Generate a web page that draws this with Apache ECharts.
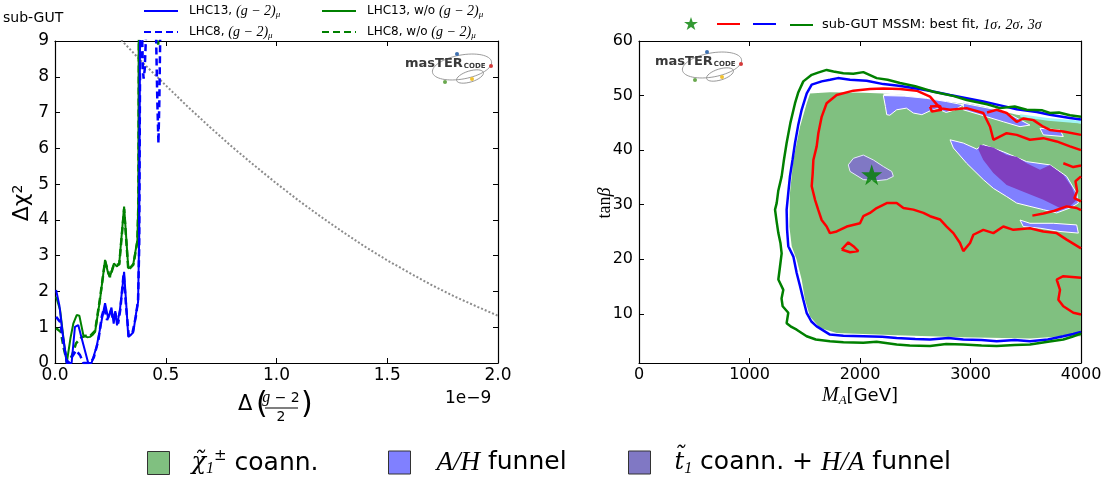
<!DOCTYPE html>
<html>
<head>
<meta charset="utf-8">
<script src="https://cdn.jsdelivr.net/npm/echarts@6.0.0/dist/echarts.min.js"></script>
<style>
html,body{margin:0;padding:0;background:#ffffff;}
#chart{width:1108px;height:483px;}
</style>
</head>
<body>
<div id="chart"></div>
<script>
// ---------- Left panel: Δχ² profiles vs Δ((g-2)/2), x in units of 1e-9 ----------
const curveNames = ['LHC13, (g−2)μ', 'LHC8, (g−2)μ', 'LHC13, w/o (g−2)μ', 'LHC8, w/o (g−2)μ'];

const lhc13WithGm2 = [[0.005,2.04],[0.02,1.6],[0.035,0.8],[0.053,0],[0.075,0],[0.09,1.01],[0.105,1.06],[0.118,0.75],[0.15,0],[0.165,0],[0.188,0.46],[0.211,1.2],[0.226,1.67],[0.24,1.25],[0.255,1.55],[0.265,1.1],[0.272,1.45],[0.28,1.05],[0.293,1.48],[0.312,2.55],[0.322,1.6],[0.331,0.73],[0.345,0.8],[0.354,0.87],[0.366,1.39],[0.375,1.7],[0.38,3.5],[0.384,9.3],[0.39,12],[0.5,14]];
const lhc8WithGm2 = [[0.005,1.29],[0.023,1.15],[0.04,0.5],[0.055,0],[0.08,0.2],[0.095,0.35],[0.113,0.22],[0.128,0],[0.16,0],[0.175,0.15],[0.196,0.64],[0.211,1.29],[0.222,1.55],[0.235,1.2],[0.25,1.45],[0.262,1.25],[0.272,1.4],[0.285,1.1],[0.295,1.5],[0.31,2.5],[0.322,1.5],[0.333,0.75],[0.35,0.85],[0.365,1.3],[0.375,1.75],[0.38,3.2],[0.385,9.5],[0.39,10],[0.397,8.2],[0.40,7.95],[0.405,8.2],[0.413,9.5],[0.455,9.6],[0.462,7.3],[0.467,6.14],[0.471,7.3],[0.476,9.6],[0.5,12]];
const lhc13NoGm2 = [[0.005,1.85],[0.023,1.48],[0.04,0.6],[0.053,0],[0.07,0.7],[0.083,1.11],[0.098,1.34],[0.11,1.32],[0.128,0.78],[0.145,0.72],[0.158,0.73],[0.172,0.8],[0.181,0.87],[0.203,1.76],[0.226,2.88],[0.24,2.5],[0.248,2.41],[0.266,2.78],[0.28,2.7],[0.29,2.78],[0.312,4.37],[0.331,2.64],[0.345,2.7],[0.354,2.78],[0.372,3.44],[0.376,4.5],[0.378,9.3],[0.385,12],[0.5,14]];
const lhc8NoGm2 = [[0.005,0.97],[0.026,0.87],[0.04,0.4],[0.055,0],[0.075,0.18],[0.095,0.55],[0.12,0.72],[0.14,0.76],[0.158,0.75],[0.181,0.9],[0.203,1.8],[0.226,2.85],[0.248,2.4],[0.266,2.75],[0.29,2.75],[0.312,4.3],[0.331,2.6],[0.354,2.75],[0.372,3.4],[0.377,4.6],[0.379,9.3],[0.385,11],[0.44,9.6],[0.466,8.9],[0.472,9.6],[0.5,11]];
const gm2Measurement = [[0.2,9.68],[0.3,9.02],[0.4,8.37],[0.5,7.76],[0.6,7.16],[0.7,6.59],[0.8,6.04],[0.9,5.52],[1.0,5.02],[1.1,4.54],[1.2,4.09],[1.3,3.66],[1.4,3.25],[1.5,2.87],[1.6,2.52],[1.7,2.18],[1.8,1.87],[1.9,1.59],[2.0,1.32]];

// ---------- Right panel: (M_A, tanβ) plane ----------
const regionNames = ['chi coann', 'A/H funnel', 'stop coann + H/A funnel'];
const bestFit = [[2106, 35.5]];

const sigma3Line = [[4000,46.1],[3900,46.4],[3800,46.9],[3719,46.8],[3650,47.3],[3508,47.4],[3400,48.0],[3267,47.7],[3150,48.4],[2965,49.2],[2850,49.9],[2664,50.7],[2500,51.7],[2362,52.3],[2250,52.9],[2151,53.2],[2030,54.3],[1940,54.0],[1849,54.1],[1760,54.4],[1698,54.7],[1620,54.2],[1563,53.8],[1487,52.6],[1440,50.5],[1412,48.6],[1370,45],[1336,41.3],[1310,38],[1291,35.2],[1260,32.5],[1246,30.3],[1231,29.1],[1245,27],[1261,24.8],[1280,23],[1291,21.1],[1275,18.5],[1261,16.3],[1306,14.4],[1290,12.8],[1300,11.4],[1351,10.2],[1336,8.3],[1380,7.6],[1427,7.1],[1517,5.9],[1600,5.3],[1728,5.0],[1850,4.8],[2030,4.7],[2150,4.9],[2332,4.4],[2450,4.2],[2634,4.1],[2780,4.5],[2935,4.4],[3100,4.2],[3237,4.1],[3400,4.3],[3538,4.4],[3700,4.9],[3840,5.3],[3920,5.8],[4000,6.4]];
const sigma2Line = [[4000,45.6],[3900,45.9],[3719,46.5],[3600,47.0],[3418,47.5],[3250,48.3],[3116,48.9],[2965,49.5],[2815,50.1],[2650,50.8],[2513,51.3],[2350,51.8],[2211,52.1],[2060,52.7],[1910,52.9],[1800,53.2],[1729,52.9],[1653,52.6],[1563,52.0],[1518,50.4],[1472,47.4],[1440,44.5],[1412,41.3],[1390,38.3],[1366,35.2],[1350,32],[1336,29.1],[1340,25.5],[1351,22.4],[1397,20.5],[1427,17.5],[1457,15.1],[1487,12.6],[1517,10.2],[1560,8.6],[1608,7.7],[1728,6.2],[1850,6.0],[2030,5.9],[2200,5.8],[2332,5.6],[2500,5.4],[2634,5.3],[2800,5.6],[2935,5.3],[3100,5.2],[3237,5.0],[3400,5.2],[3538,5.0],[3700,5.3],[3840,5.9],[3930,6.3],[4000,6.7]];
const sigma1Main = [[4000,40.0],[3900,40.7],[3780,41.6],[3659,42.2],[3538,41.9],[3418,42.8],[3327,43.1],[3207,41.9],[3177,44.3],[3116,46.8],[2965,47.7],[2815,47.4],[2724,47.7],[2634,49.8],[2513,50.9],[2362,51.2],[2211,51.3],[2090,51.2],[1940,50.9],[1789,50.1],[1698,48.6],[1653,46.1],[1623,43.1],[1608,40.7],[1578,38.2],[1572,35.8],[1563,33.4],[1593,30.9],[1623,29.0],[1653,27.2],[1698,26.0],[1728,24.8],[1789,25.1],[1880,26.0],[2000,26.6],[2030,27.9],[2090,28.5],[2151,29.4],[2242,30.3],[2332,30.3],[2393,29.4],[2483,29.1],[2574,28.5],[2634,27.9],[2724,27.3],[2784,26.0],[2845,24.8],[2905,23.0],[2935,21.5],[2996,23.0],[3026,24.5],[3116,25.4],[3207,24.8],[3297,26.0],[3388,25.4],[3538,25.7],[3659,25.1],[3780,24.8],[3870,23.6],[4000,22.0]];
const sigma1Upper = [[3150,46.9],[3237,47.4],[3327,46.8],[3418,45.2],[3478,45.8],[3569,45.5],[3659,44.3],[3719,43.7],[3840,43.4],[4000,42.8]];
const sigma1EdgeA = [[3840,37.6],[3930,36.9],[4000,37.2]];
const sigma1EdgeB = [[4000,35.2],[3950,34.3],[3965,32.5],[3940,31.2],[4000,30.6]];
const sigma1EdgeC = [[3560,28.0],[3660,28.4],[3760,28.9],[3870,29.7],[3960,29.4],[4000,29.0]];
const sigma1Corner = [[4000,16.6],[3840,16.9],[3780,16.3],[3810,14.4],[3795,12.6],[3840,11.4],[3931,10.2],[4000,9.9]];
const sigma1IslandLow = [[1834,21.8],[1894,23.1],[1940,22.4],[1985,21.5],[1910,21.3],[1834,21.8]];
const sigma1IslandTop = [[2634,48.0],[2724,48.1],[2739,47.4],[2649,47.1],[2634,48.0]];

const coannRegion = [[[1548,50.4],[1729,50.6],[2030,50.5],[2211,50.4],[2483,50.0],[2784,49.3],[3116,48.0],[3418,46.5],[3719,45.7],[4000,44.9],[4000,5.9],[3840,5.9],[3538,5.5],[2935,5.7],[2332,6.1],[2030,6.3],[1789,6.5],[1638,7.4],[1548,9.5],[1502,12.6],[1472,16.3],[1427,19.9],[1382,22.4],[1361,26.0],[1366,32.1],[1397,38.2],[1457,44.3],[1518,48.6]]];
const gapRegion = [[[2211,50.4],[2500,50.1],[2784,49.4],[2935,48.9],[2935,48.5],[2784,48.9],[2634,49.0],[2450,49.3],[2300,49.5],[2226,48.9]]];
const edgeRegion = [[[3450,46.6],[3700,45.9],[4000,45.4],[4000,44.9],[3700,45.4],[3450,46.1]]];
const funnelRegion = [
  [[2211,50.0],[2400,49.9],[2600,49.5],[2784,48.9],[2935,48.3],[2860,47.4],[2780,46.9],[2700,47.6],[2634,47.2],[2560,46.5],[2483,46.8],[2420,47.7],[2332,47.4],[2270,46.4],[2242,46.5],[2230,48.0]],
  [[2935,48.6],[3237,47.4],[3388,46.2],[3538,44.6],[3448,44.3],[3297,45.2],[3086,46.5],[2935,47.4]],
  [[3629,44.0],[3810,43.7],[3840,42.5],[3659,42.8]],
  [[2815,41.9],[2935,41.3],[3056,40.2],[3116,41.0],[3297,39.7],[3508,37.9],[3719,37.3],[3870,35.2],[3961,32.1],[3976,30.3],[3900,29.4],[3780,28.5],[3659,29.1],[3538,29.7],[3418,30.3],[3327,31.5],[3207,33.0],[3116,34.6],[2965,37.6],[2845,40.4]],
  [[3448,27.2],[3538,26.6],[3749,26.6],[3961,26.3],[3976,24.8],[3810,25.1],[3629,25.7],[3478,26.0]]
];
// stop coannihilation + H/A funnel patch around the best-fit point
const stopRegion = [[[1894,37.3],[1940,38.5],[2030,39.1],[2121,38.2],[2211,37.0],[2287,36.1],[2302,35.2],[2242,34.6],[2151,34.4],[2030,34.6],[1910,36.1]]];
// darker band where the stop and funnel regions overlap
const overlapRegion = [[[3086,41.0],[3207,40.5],[3327,39.1],[3418,38.8],[3508,37.6],[3629,36.4],[3719,37.3],[3840,35.5],[3915,33.3],[3961,30.9],[3900,29.7],[3810,29.4],[3659,30.9],[3478,32.4],[3327,33.6],[3207,35.8],[3116,38.2],[3071,40.1]]];

// helpers ---------------------------------------------------------------
function joinPieces(pieces) {
  const out = [];
  pieces.forEach((p, i) => { if (i) out.push(null); p.forEach(pt => out.push(pt)); });
  return out;
}
function fillSeries(name, regions, color, z, stroke) {
  return {
    type: 'custom', name, xAxisIndex: 2, yAxisIndex: 2, z, clip: true, silent: true,
    itemStyle: { color },
    data: regions.map((r, i) => [r[0][0], r[0][1], i]),
    encode: { x: 0, y: 1 },
    renderItem: (params, api) => {
      const poly = regions[api.value(2)];
      return { type: 'polygon', shape: { points: poly.map(p => api.coord(p)) },
        style: { fill: color, stroke: stroke || 'none', lineWidth: stroke ? 1 : 0 } };
    }
  };
}
const STAR = 'path://M50,0 L61.8,35.1 L98.9,35.1 L69,56.9 L80.2,91.5 L50,70 L19.8,91.5 L31,56.9 L1.1,35.1 L38.2,35.1 Z';

const axisCommon = {
  type: 'value',
  axisLine: { onZero: false, lineStyle: { color: '#000', width: 1.2 } },
  axisTick: { inside: true, length: 5, lineStyle: { color: '#000', width: 1 } },
  splitLine: { show: false }
};
const tickFont = { color: '#000', fontFamily: 'DejaVu Sans', fontSize: 17 };
function ax(extra) { return Object.assign({}, axisCommon, extra); }

const mathRich = {
  m: { fontFamily: 'Liberation Serif', fontStyle: 'italic', fontSize: 14, lineHeight: 16 },
  s: { fontFamily: 'Liberation Serif', fontStyle: 'italic', fontSize: 9, verticalAlign: 'bottom', lineHeight: 16, padding: [6, 0, 0, 0] }
};
const lhcLabel = name => name.replace('(g−2)μ', '{m|(g − 2)}{s|μ}');

// line legends: only the stroke is shown, the symbol is hidden
const lineLegend = (name, left, top) => ({
  data: [name], left, top, padding: 0, itemWidth: 34, itemHeight: 12, itemGap: 0,
  selectedMode: false, formatter: lhcLabel, itemStyle: { opacity: 0 },
  textStyle: { fontFamily: 'DejaVu Sans', fontSize: 12, color: '#000', padding: [0, 0, 0, 6], rich: mathRich }
});

const bigRich = {
  m: { fontFamily: 'Liberation Serif', fontStyle: 'italic', fontSize: 27 },
  c: { fontFamily: 'DejaVu Serif', fontStyle: 'italic', fontSize: 24 },
  sub: { fontFamily: 'Liberation Serif', fontStyle: 'italic', fontSize: 16, verticalAlign: 'bottom', lineHeight: 28, padding: [9, 0, 0, 0] },
  sup: { fontFamily: 'DejaVu Sans', fontSize: 15, verticalAlign: 'top', lineHeight: 28, padding: [0, 0, 9, 0] }
};
const regionLabels = {
  'chi coann': '{c|χ̃}{sub|1}{sup|±} coann.',
  'A/H funnel': '{m|A/H} funnel',
  'stop coann + H/A funnel': '{c|t̃}{sub|1} coann. + {m|H/A} funnel'
};
const boxLegend = (name, left, gapLeft) => ({
  data: [name], left, top: 449, padding: 0, itemWidth: 22, itemHeight: 23, icon: 'rect',
  selectedMode: false, formatter: n => regionLabels[n],
  itemStyle: { borderColor: '#333', borderWidth: 1 },
  textStyle: { fontFamily: 'DejaVu Sans', fontSize: 25, color: '#000', padding: [0, 0, 0, gapLeft], rich: bigRich }
});

const sigmaRich = { m: { fontFamily: 'Liberation Serif', fontStyle: 'italic', fontSize: 14 } };
const fitLegend = (name, left, w, label, isStar) => ({
  data: [name], left, top: isStar ? 17 : 18, padding: 0, itemWidth: w, itemHeight: isStar ? 13 : 12,
  selectedMode: false, formatter: () => label,
  itemStyle: isStar ? {} : { opacity: 0 },
  textStyle: { fontFamily: 'DejaVu Sans', fontSize: 13, color: '#000', padding: [0, 0, 0, 4], rich: sigmaRich }
});

function logo(ox, oy) {
  return [
    { type: 'ellipse', x: ox + 57, y: oy + 3, rotation: 0.18, shape: { cx: 0, cy: 0, rx: 30, ry: 12 }, style: { fill: 'none', stroke: '#8a8a8a', lineWidth: 0.8 } },
    { type: 'ellipse', x: ox + 65, y: oy + 12.5, rotation: 0.3, shape: { cx: 0, cy: 0, rx: 14, ry: 5.5 }, style: { fill: 'none', stroke: '#8a8a8a', lineWidth: 0.8 } },
    { type: 'text', x: ox, y: oy, style: { text: '{a|masTER}{b|CODE}', verticalAlign: 'middle', rich: {
      a: { fontFamily: 'DejaVu Sans', fontWeight: 'bold', fontSize: 13, fill: '#3a3a3a' },
      b: { fontFamily: 'DejaVu Sans', fontWeight: 'bold', fontSize: 7, fill: '#3a3a3a', padding: [4, 0, 0, 1] } } } },
    { type: 'circle', shape: { cx: ox + 52, cy: oy - 10, r: 2 }, style: { fill: '#3d6fb0' } },
    { type: 'circle', shape: { cx: ox + 86, cy: oy + 2, r: 2 }, style: { fill: '#d43a3a' } },
    { type: 'circle', shape: { cx: ox + 40, cy: oy + 18, r: 2 }, style: { fill: '#6aa84f' } },
    { type: 'circle', shape: { cx: ox + 67, cy: oy + 15, r: 2 }, style: { fill: '#f1c232' } }
  ];
}

const option = {
  animation: false,
  backgroundColor: '#ffffff',
  grid: [
    { left: 55, top: 41, width: 443, height: 322 },
    { left: 639, top: 41, width: 442, height: 322 }
  ],
  xAxis: [
    ax({ gridIndex: 0, min: 0, max: 2, interval: 0.5, position: 'bottom', axisLabel: Object.assign({ margin: 4, formatter: v => v.toFixed(1) }, tickFont) }),
    ax({ gridIndex: 0, min: 0, max: 2, interval: 0.5, position: 'top', axisLabel: { show: false } }),
    ax({ gridIndex: 1, min: 0, max: 4000, interval: 1000, position: 'bottom', axisLabel: Object.assign({ margin: 4, formatter: v => String(v) }, tickFont, { fontSize: 16 }) }),
    ax({ gridIndex: 1, min: 0, max: 4000, interval: 1000, position: 'top', axisLabel: { show: false } })
  ],
  yAxis: [
    ax({ gridIndex: 0, min: 0, max: 9, interval: 1, position: 'left', axisLabel: Object.assign({ margin: 6 }, tickFont) }),
    ax({ gridIndex: 0, min: 0, max: 9, interval: 1, position: 'right', axisLabel: { show: false } }),
    ax({ gridIndex: 1, min: 1, max: 60, splitNumber: 6, position: 'left', axisLabel: Object.assign({ margin: 6, showMinLabel: false, formatter: v => (v % 10 === 0 ? String(v) : '') }, tickFont, { fontSize: 16 }) }),
    ax({ gridIndex: 1, min: 1, max: 60, splitNumber: 6, position: 'right', axisLabel: { show: false } })
  ],
  legend: [
    lineLegend(curveNames[0], 143, 4),
    lineLegend(curveNames[2], 321, 4),
    lineLegend(curveNames[1], 143, 25),
    lineLegend(curveNames[3], 321, 25),
    fitLegend('best fit', 684, 14, '', true),
    fitLegend('1σ', 716, 23, ''),
    fitLegend('2σ', 752, 23, ''),
    fitLegend('3σ', 789, 23, 'sub-GUT MSSM: best fit, {m|1σ}, {m|2σ}, {m|3σ}'),
    boxLegend(regionNames[0], 147, 17),
    boxLegend(regionNames[1], 388, 21),
    boxLegend(regionNames[2], 628, 19)
  ],
  series: [
    { type: 'line', name: 'Δaμ measurement', xAxisIndex: 0, yAxisIndex: 0, data: gm2Measurement, symbol: 'none', clip: true, silent: true,
      lineStyle: { color: '#8c8c8c', width: 2, type: [2, 2] } },
    { type: 'line', name: curveNames[2], xAxisIndex: 0, yAxisIndex: 0, data: lhc13NoGm2, symbol: 'none', clip: true, silent: true,
      itemStyle: { color: '#008000' }, lineStyle: { color: '#008000', width: 2 } },
    { type: 'line', name: curveNames[3], xAxisIndex: 0, yAxisIndex: 0, data: lhc8NoGm2, symbol: 'none', clip: true, silent: true,
      itemStyle: { color: '#008000' }, lineStyle: { color: '#008000', width: 2.5, type: [7, 4] } },
    { type: 'line', name: curveNames[0], xAxisIndex: 0, yAxisIndex: 0, data: lhc13WithGm2, symbol: 'none', clip: true, silent: true,
      itemStyle: { color: '#0000ff' }, lineStyle: { color: '#0000ff', width: 2 } },
    { type: 'line', name: curveNames[1], xAxisIndex: 0, yAxisIndex: 0, data: lhc8WithGm2, symbol: 'none', clip: true, silent: true,
      itemStyle: { color: '#0000ff' }, lineStyle: { color: '#0000ff', width: 2.5, type: [7, 4] } },

    fillSeries(regionNames[0], coannRegion, '#80c080', 1),
    fillSeries('gap', gapRegion, '#ffffff', 2),
    fillSeries('edge', edgeRegion, '#9ff5f5', 2),
    fillSeries(regionNames[1], funnelRegion, '#8080ff', 3, '#ffffff'),
    fillSeries(regionNames[2], stopRegion, '#8078c4', 3, '#e8e8ff'),
    fillSeries('overlap', overlapRegion, '#7f3fbf', 4),

    { type: 'line', name: '1σ', xAxisIndex: 2, yAxisIndex: 2, z: 5, symbol: 'none', clip: true, silent: true, connectNulls: false,
      data: joinPieces([sigma1Main, sigma1Upper, sigma1EdgeA, sigma1EdgeB, sigma1EdgeC, sigma1Corner, sigma1IslandLow, sigma1IslandTop]),
      itemStyle: { color: '#ff0000' }, lineStyle: { color: '#ff0000', width: 2.5 } },
    { type: 'line', name: '2σ', xAxisIndex: 2, yAxisIndex: 2, z: 5, symbol: 'none', clip: true, silent: true, data: sigma2Line,
      itemStyle: { color: '#0000ff' }, lineStyle: { color: '#0000ff', width: 2.5 } },
    { type: 'line', name: '3σ', xAxisIndex: 2, yAxisIndex: 2, z: 5, symbol: 'none', clip: true, silent: true, data: sigma3Line,
      itemStyle: { color: '#008000' }, lineStyle: { color: '#008000', width: 2.5 } },
    { type: 'scatter', name: 'best fit', xAxisIndex: 2, yAxisIndex: 2, z: 6, symbol: STAR, symbolSize: 21, silent: true, data: bestFit,
      itemStyle: { color: '#008000' } }
  ],
  graphic: [
    { type: 'text', x: 3, y: 18, style: { text: 'sub-GUT', fontFamily: 'DejaVu Sans', fontSize: 14, fill: '#000', verticalAlign: 'middle' } },
    { type: 'text', x: 22, y: 203, rotation: Math.PI / 2, style: { text: '{a|Δχ}{b|2}', align: 'center', verticalAlign: 'middle', rich: {
      a: { fontFamily: 'DejaVu Sans', fontSize: 22, fill: '#000' }, b: { fontFamily: 'DejaVu Sans', fontSize: 14, verticalAlign: 'top', padding: [0, 0, 8, 0], fill: '#000' } } } },
    { type: 'text', x: 445, y: 399, style: { text: '1e−9', fontFamily: 'DejaVu Sans', fontSize: 17, fill: '#000', verticalAlign: 'middle' } },
    { type: 'text', x: 238, y: 405, style: { text: 'Δ', fontFamily: 'DejaVu Sans', fontSize: 21, fill: '#000', verticalAlign: 'middle' } },
    { type: 'text', x: 256, y: 405, style: { text: '(', fontFamily: 'DejaVu Sans', fontSize: 30, fill: '#000', verticalAlign: 'middle' } },
    { type: 'text', x: 281, y: 398, style: { text: '{m|g} − 2', fontFamily: 'DejaVu Sans', fontSize: 14, fill: '#000', align: 'center', verticalAlign: 'middle', rich: { m: { fontFamily: 'Liberation Serif', fontStyle: 'italic', fontSize: 16 } } } },
    { type: 'line', shape: { x1: 265, y1: 408, x2: 298, y2: 408 }, style: { stroke: '#000', lineWidth: 1.2 } },
    { type: 'text', x: 281, y: 417, style: { text: '2', fontFamily: 'DejaVu Sans', fontSize: 14, fill: '#000', align: 'center', verticalAlign: 'middle' } },
    { type: 'text', x: 301, y: 405, style: { text: ')', fontFamily: 'DejaVu Sans', fontSize: 30, fill: '#000', verticalAlign: 'middle' } },
    { type: 'text', x: 860, y: 396, style: { text: '{m|M}{s|A}[GeV]', fontFamily: 'DejaVu Sans', fontSize: 18, fill: '#000', align: 'center', verticalAlign: 'middle', rich: {
      m: { fontFamily: 'Liberation Serif', fontStyle: 'italic', fontSize: 20 },
      s: { fontFamily: 'Liberation Serif', fontStyle: 'italic', fontSize: 13, verticalAlign: 'bottom', lineHeight: 22, padding: [8, 0, 0, 0] } } } },
    { type: 'text', x: 605, y: 203, rotation: Math.PI / 2, style: { text: 'tan{b|β}', fontFamily: 'Liberation Serif', fontSize: 18, fill: '#000', align: 'center', verticalAlign: 'middle', rich: {
      b: { fontFamily: 'Liberation Serif', fontStyle: 'italic', fontSize: 18 } } } }
  ].concat(logo(405, 64), logo(655, 62))
};

const chart = echarts.init(document.getElementById('chart'), null, { renderer: 'canvas' });
chart.setOption(option);
</script>
</body>
</html>
